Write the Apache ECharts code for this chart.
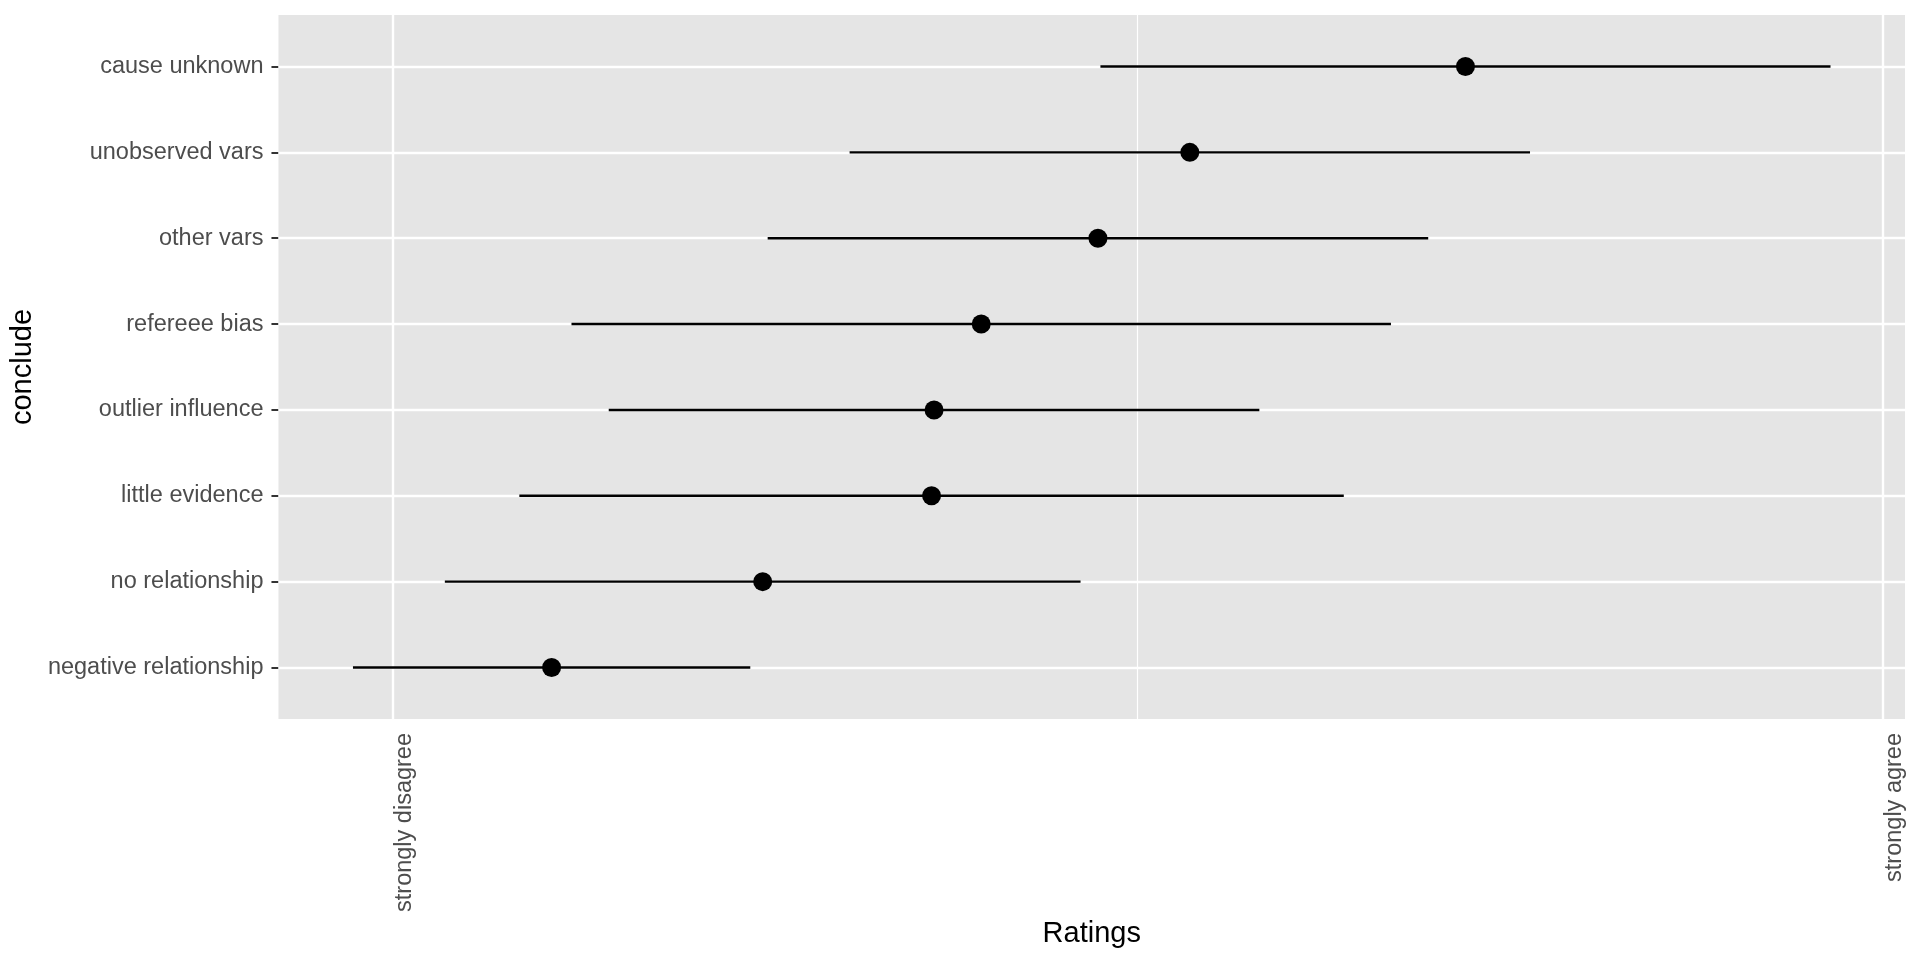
<!DOCTYPE html>
<html>
<head>
<meta charset="utf-8">
<script src="https://cdn.jsdelivr.net/npm/echarts@6/dist/echarts.min.js"></script>
<style>
html,body{margin:0;padding:0;background:#fff;}
#chart{width:1920px;height:960px;}
</style>
</head>
<body>
<div id="chart"></div>
<script>
// Categories, bottom to top
const categories = ['negative relationship','no relationship','little evidence','outlier influence','refereee bias','other vars','unobserved vars','cause unknown'];
const means = [1.64, 2.49, 3.17, 3.18, 3.37, 3.84, 4.21, 5.32];
const lower = [0.84, 1.21, 1.51, 1.87, 1.72, 2.51, 2.84, 3.85];
const upper = [2.44, 3.77, 4.83, 4.49, 5.02, 5.17, 5.58, 6.79];
const xTickValues = [1, 7];
const xTickLabels = ['strongly disagree', 'strongly agree'];
const xMinorValues = [4];

const FONT = '"Liberation Sans", Arial, Helvetica, sans-serif';
const catIdx = categories.map((_, i) => i);

const pointData = means.map((m, i) => [m, i]);
const barData = lower.map((lo, i) => [lo, upper[i], i]);

const gridLines = [];
xTickValues.forEach(v => gridLines.push({xAxis: v, lineStyle: {color: '#fff', width: 2.4, type: 'solid'}}));
xMinorValues.forEach(v => gridLines.push({xAxis: v, lineStyle: {color: '#fff', width: 1.2, type: 'solid'}}));
catIdx.forEach(v => gridLines.push({yAxis: v, lineStyle: {color: '#fff', width: 2.4, type: 'solid'}}));

const chart = echarts.init(document.getElementById('chart'), null, {renderer: 'canvas'});
chart.setOption({
  animation: false,
  backgroundColor: '#ffffff',
  grid: {left: 278, right: 15, top: 15, bottom: 241, show: true, backgroundColor: '#E5E5E5', borderWidth: 0},
  xAxis: {
    type: 'value', min: 0.54, max: 7.09,
    name: 'Ratings', nameLocation: 'middle', nameGap: 199,
    nameTextStyle: {fontFamily: FONT, fontSize: 29, color: '#000'},
    axisLine: {show: false},
    splitLine: {show: false},
    axisTick: {show: true, length: 7, customValues: xTickValues, lineStyle: {color: '#333', width: 2}},
    axisLabel: {
      show: true, rotate: 90, margin: 14, customValues: xTickValues,
      verticalAlign: 'top',
      fontFamily: FONT, fontSize: 23.5, color: '#4D4D4D',
      formatter: v => { const k = xTickValues.indexOf(v); return k >= 0 ? xTickLabels[k] : ''; }
    }
  },
  yAxis: {
    type: 'value', min: -0.6, max: 7.6,
    name: 'conclude', nameLocation: 'middle', nameGap: 225, nameRotate: 90,
    nameTextStyle: {fontFamily: FONT, fontSize: 29, color: '#000'},
    axisLine: {show: false},
    splitLine: {show: false},
    axisTick: {show: true, length: 7, customValues: catIdx, lineStyle: {color: '#333', width: 2}},
    axisLabel: {
      show: true, margin: 15, customValues: catIdx,
      padding: [3, 0, 0, 0],
      fontFamily: FONT, fontSize: 23.5, color: '#4D4D4D',
      formatter: v => categories[Math.round(v)] || ''
    }
  },
  series: [
    {
      type: 'line', z: 1, data: [], silent: true,
      markLine: {silent: true, z: 1, symbol: 'none', label: {show: false}, animation: false, data: gridLines}
    },
    {
      type: 'custom', z: 6, silent: true,
      data: barData,
      encode: {x: [0, 1], y: 2},
      renderItem: function (params, api) {
        const p1 = api.coord([api.value(0), api.value(2)]);
        const p2 = api.coord([api.value(1), api.value(2)]);
        return {type: 'line', shape: {x1: p1[0], y1: p1[1], x2: p2[0], y2: p2[1]}, style: {stroke: '#000', lineWidth: 2.4, opacity: 1}};
      }
    },
    {
      type: 'scatter', z: 7, silent: true,
      data: pointData, symbol: 'circle', symbolSize: 19,
      itemStyle: {color: '#000', opacity: 1}
    }
  ]
});
</script>
</body>
</html>
